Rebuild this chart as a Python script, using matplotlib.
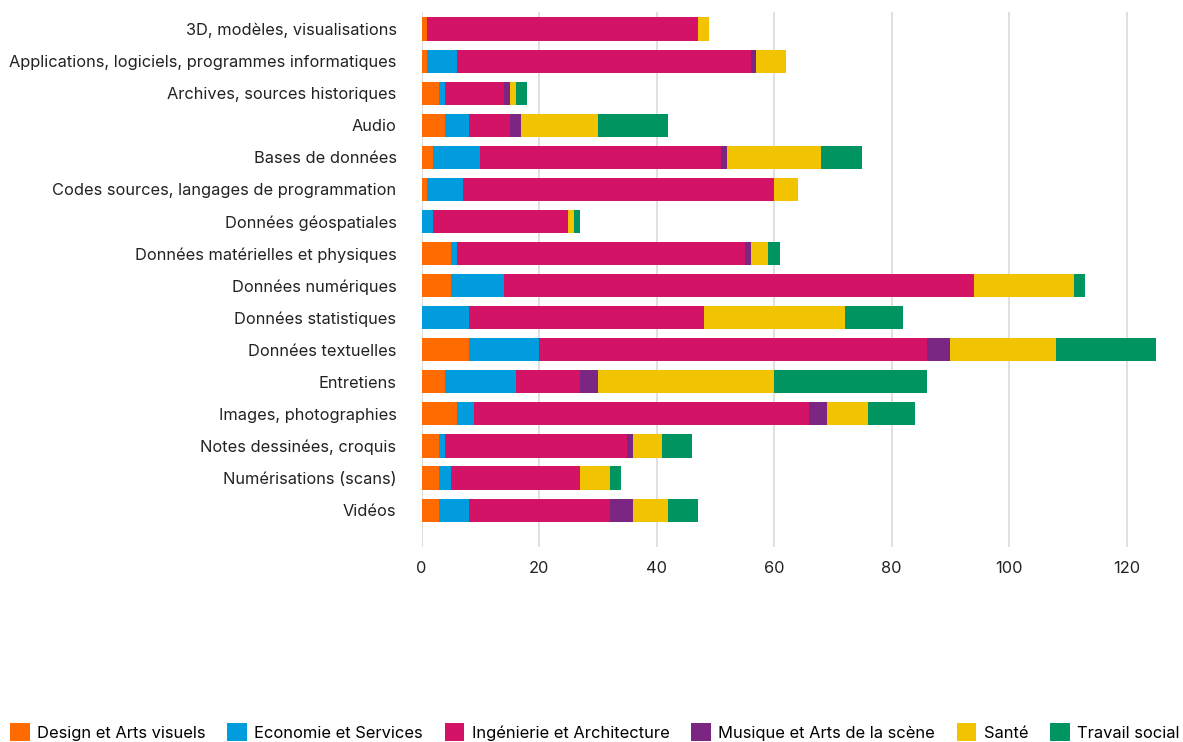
import matplotlib.pyplot as plt
import numpy as np

plt.rcParams['font.family'] = ['Inter', 'DejaVu Sans']

categories = [
    "3D, modèles, visualisations",
    "Applications, logiciels, programmes informatiques",
    "Archives, sources historiques",
    "Audio",
    "Bases de données",
    "Codes sources, langages de programmation",
    "Données géospatiales",
    "Données matérielles et physiques",
    "Données numériques",
    "Données statistiques",
    "Données textuelles",
    "Entretiens",
    "Images, photographies",
    "Notes dessinées, croquis",
    "Numérisations (scans)",
    "Vidéos",
]

design = [1, 1, 3, 4, 2, 1, 0, 5, 5, 0, 8, 4, 6, 3, 3, 3]
economie = [0, 5, 1, 4, 8, 6, 2, 1, 9, 8, 12, 12, 3, 1, 2, 5]
ingenierie = [46, 50, 10, 7, 41, 53, 23, 49, 80, 40, 66, 11, 57, 31, 22, 24]
musique = [0, 1, 1, 2, 1, 0, 0, 1, 0, 0, 4, 3, 3, 1, 0, 4]
sante = [2, 5, 1, 13, 16, 4, 1, 3, 17, 24, 18, 30, 7, 5, 5, 6]
travail = [0, 0, 2, 12, 7, 0, 1, 2, 2, 10, 17, 26, 8, 5, 2, 5]

series = [
    ("Design et Arts visuels", design, "#FF6B00"),
    ("Economie et Services", economie, "#009CDE"),
    ("Ingénierie et Architecture", ingenierie, "#D41367"),
    ("Musique et Arts de la scène", musique, "#7B2683"),
    ("Santé", sante, "#F2C300"),
    ("Travail social", travail, "#009460"),
]

fig = plt.figure(figsize=(11.83, 7.42), dpi=100)
ax = fig.add_axes([421.5 / 1183, 1 - 547 / 742, (1156 - 421.5) / 1183, 535 / 742])

y = np.arange(len(categories))
left = np.zeros(len(categories))
for name, vals, color in series:
    ax.barh(y, vals, left=left, height=0.72, color=color, label=name, zorder=3)
    left += np.array(vals)

ax.set_xlim(0, 125)
ax.set_ylim(15 + 1.15, -0.53)
ax.set_yticks(y)
ax.set_yticklabels(categories, fontsize=11.8, color="#222222")
ax.set_xticks([0, 20, 40, 60, 80, 100, 120])
ax.tick_params(axis="x", labelsize=11.8, colors="#222222", length=0, pad=10)
ax.tick_params(axis="y", length=0, pad=18)
ax.grid(axis="x", color="#dddddd", linewidth=1.3, zorder=0)
for s in ax.spines.values():
    s.set_visible(False)

fig.legend(loc="lower left", bbox_to_anchor=(0.0, -0.012), ncol=6, frameon=False,
           fontsize=11.9, handlelength=1.2, handleheight=1.3, handletextpad=0.45,
           columnspacing=1.3, borderaxespad=0.2)

fig.savefig("out.png", dpi=100)
